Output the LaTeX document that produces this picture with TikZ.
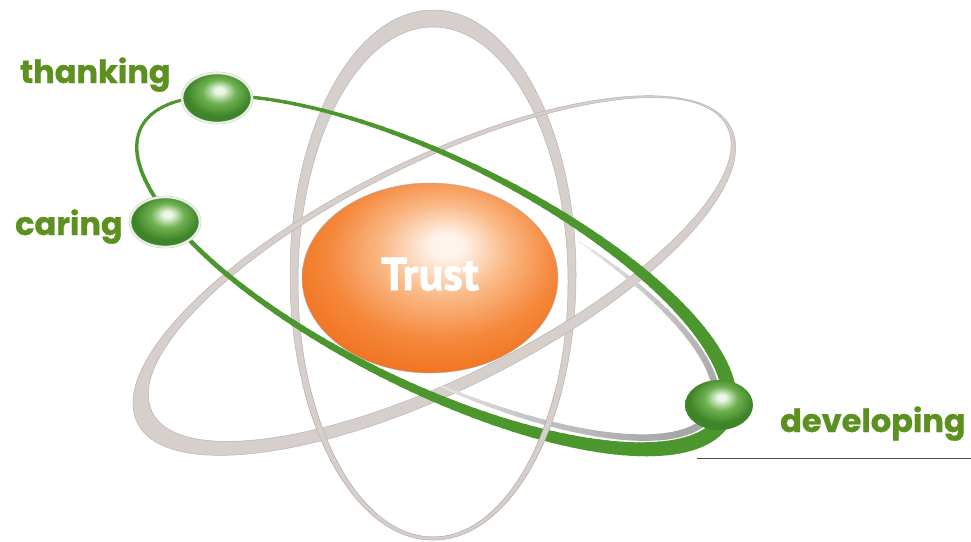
\documentclass[tikz,border=0pt]{standalone}
\usepackage{fontspec}
\usepackage{graphicx}
\usetikzlibrary{shapes.geometric}
\newfontfamily\lblfont{Poppins}[BoldFeatures={FakeBold=0.8}]
\newfontfamily\trustfont{PT Sans}[BoldFeatures={FakeBold=1.6}]
\definecolor{ringfill}{RGB}{214,207,204}
\definecolor{ringedge}{RGB}{186,179,176}
\definecolor{ringgreen}{RGB}{76,150,46}
\definecolor{txtgreen}{RGB}{92,145,32}
\definecolor{ballhi}{RGB}{236,247,230}
\definecolor{ballmid}{RGB}{112,178,82}
\definecolor{balldark}{RGB}{62,132,40}
\definecolor{ballrim}{RGB}{232,244,226}
\definecolor{orhi}{RGB}{254,244,236}
\definecolor{orlight}{RGB}{250,186,136}
\definecolor{ormid}{RGB}{245,136,60}
\definecolor{ordark}{RGB}{240,116,32}
\pgfdeclareradialshading{gball}{\pgfpoint{2bp}{8bp}}{color(0bp)=(ballhi); color(3bp)=(ballhi); color(12bp)=(ballmid); color(23bp)=(balldark); color(30bp)=(balldark); color(60bp)=(balldark)}
\pgfdeclareradialshading{trustshade}{\pgfpoint{3.5bp}{9bp}}{color(0bp)=(orhi); color(3bp)=(orhi); color(12bp)=(orlight); color(22bp)=(ormid); color(30bp)=(ordark); color(60bp)=(ordark)}
\tikzset{
  ring/.style={fill=ringfill, draw=ringedge, line width=0.5pt, even odd rule},
  ball/.style={ellipse, inner sep=0pt, outer sep=0pt, minimum width=70, minimum height=50, shading=gball},
  rimball/.style={ball, draw=black!22, double=ballrim, double distance=1.8pt, line width=0.4pt},
  lbl/.style={text=txtgreen, font=\lblfont\bfseries\fontsize{32}{38}\selectfont, inner sep=0pt},
}
\begin{document}
\begin{tikzpicture}[x=1pt,y=-1pt]
\useasboundingbox (0,0) rectangle (971,541);
\fill[white] (0,0) rectangle (971,541);
% vertical ring
\path[ring] (433,275) ellipse [x radius=143, y radius=265] (433,282) ellipse [x radius=135, y radius=255];
% tilted gray ring
\path[ring, shift={(437,272.5)}, rotate=26.4] (-3.75,1.5) ellipse [x radius=331.5, y radius=115] (3.75,-1.5) ellipse [x radius=321, y radius=107];
% green ring, width growing toward the lower right
\begin{scope}[shift={(433,272.5)}, rotate=-26.4]
\foreach \t in {0,2,...,358} {
  \pgfmathsetmacro\w{3+12*((1+cos(\t))/2)^2+1.5*max(0,sin(\t))}
  \draw[ringgreen, line width=\w pt] ({326*cos(\t)},{113*sin(\t)}) arc[start angle=\t, end angle=\t+2.6, x radius=326, y radius=113];
}
% shadow inside the green ring
\foreach \t in {-68,-65,...,76} {
  \pgfmathsetmacro\s{sin((\t+68)/147*180)}
  \pgfmathsetmacro\w{1+6*sqrt(\s)}
  \pgfmathtruncatemacro\p{8+28*\s^0.7}
  \draw[line width=\w pt, color=black!\p!white] ({312*cos(\t)},{100*sin(\t)}) arc[start angle=\t, end angle=\t+3.3, x radius=312, y radius=100];
}
\end{scope}
% lower part of vertical ring in front
\begin{scope}
\clip (0,392) rectangle (971,541);
\path[ring] (433,275) ellipse [x radius=143, y radius=265] (433,282) ellipse [x radius=135, y radius=255];
\end{scope}
% Trust
\node[ellipse, inner sep=0pt, outer sep=0pt, minimum width=256, minimum height=190, shading=trustshade, draw=black!30, line width=0.4pt] (trust) at (430,278) {};
\node[anchor=base, text=white, inner sep=0pt, font=\trustfont\bfseries\fontsize{46}{50}\selectfont] (ttrust) at (430,290) {Trust};
% balls
\node[rimball] (bthank) at (217,98) {};
\node[rimball] (bcare) at (165,222) {};
\node[ball, minimum width=68] (bdev) at (719,405) {};
% labels
\node[lbl, anchor=base west] (tthank) at (20,83) {thanking};
\node[lbl, anchor=base west] (tcare) at (15,235) {caring};
\node[lbl, anchor=base west] (tdev) at (780,432) {developing};
% rule
\coordinate (l1) at (697,458);
\coordinate (l2) at (971,458);
\draw[black!70, line width=1pt] (l1) -- (l2);
\end{tikzpicture}
\end{document}
